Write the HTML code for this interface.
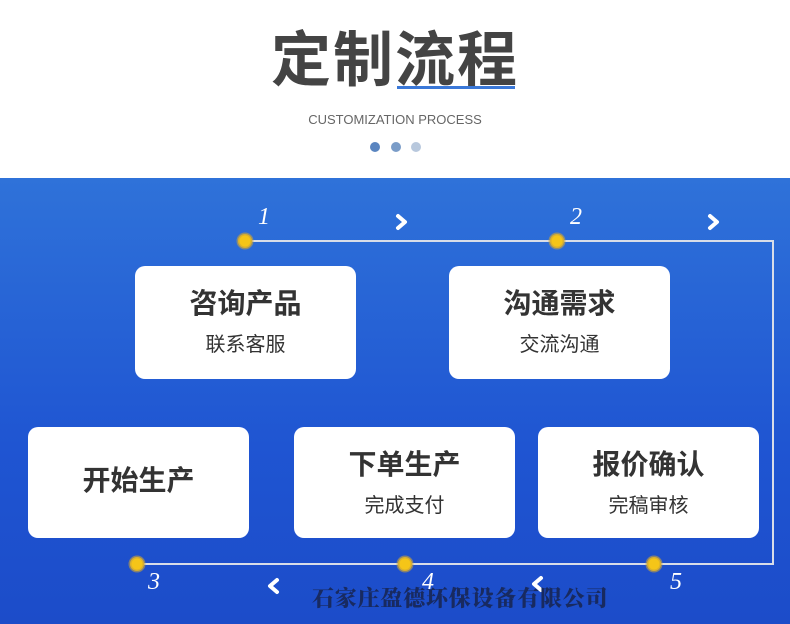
<!DOCTYPE html>
<html><head><meta charset="utf-8"><style>
*{margin:0;padding:0;box-sizing:border-box}
body{width:790px;height:624px;overflow:hidden;position:relative;background:#fff;font-family:"Liberation Sans","Noto Sans CJK SC",sans-serif}
.abs{position:absolute}
.blue{left:0;top:178px;width:790px;height:446px;background:linear-gradient(#2f72d9,#1f55d2 60%,#1c4cc9)}
.box{position:absolute;background:#fff;border-radius:10px;text-align:center;color:#333}
.box .t{font-size:28px;font-weight:bold;margin-top:20px;line-height:36px}
.box .s{font-size:20px;margin-top:10px;line-height:26px}
.num{position:absolute;color:#fff;font-family:"Liberation Serif",serif;font-style:italic;font-size:24px}
</style></head><body>
<div class="abs" style="left:0;top:26px;width:790px;text-align:center;font-size:60px;font-weight:bold;color:#444;letter-spacing:2px;line-height:70px">定制流程</div>
<div class="abs" style="left:397px;top:86px;width:118px;height:3px;background:#3a78d8"></div>
<div class="abs" style="left:0;top:112px;width:790px;text-align:center;font-size:13px;color:#666">CUSTOMIZATION PROCESS</div>
<div class="abs" style="left:370px;top:142px;width:10px;height:10px;border-radius:50%;background:#5a85c0"></div>
<div class="abs" style="left:391px;top:142px;width:10px;height:10px;border-radius:50%;background:#7a9cc8"></div>
<div class="abs" style="left:411px;top:142px;width:10px;height:10px;border-radius:50%;background:#b8c8dd"></div>
<div class="abs blue"></div>
<svg class="abs" style="left:0;top:0" width="790" height="624">
<polyline points="245,241 773,241 773,564 137,564" fill="none" stroke="#d8dde8" stroke-width="2"/>
<g fill="#f5c518" stroke="#c9a33a" stroke-opacity=".6" stroke-width="3">
<circle cx="245" cy="241" r="7"/><circle cx="557" cy="241" r="7"/>
<circle cx="137" cy="564" r="7"/><circle cx="405" cy="564" r="7"/><circle cx="654" cy="564" r="7"/></g>
<g fill="none" stroke="#fff" stroke-width="4" stroke-linecap="round" stroke-linejoin="round">
<polyline points="398,216 405,222 398,228"/>
<polyline points="710,216 717,222 710,228"/>
<polyline points="277,580 270,586 277,592"/>
<polyline points="541,578 534,584 541,590"/>
</g>
</svg>
<div class="num" style="left:258px;top:204px">1</div>
<div class="num" style="left:570px;top:204px">2</div>
<div class="num" style="left:148px;top:569px">3</div>
<div class="num" style="left:422px;top:569px">4</div>
<div class="num" style="left:670px;top:569px">5</div>
<div class="box" style="left:135px;top:266px;width:221px;height:113px"><div class="t">咨询产品</div><div class="s">联系客服</div></div>
<div class="box" style="left:449px;top:266px;width:221px;height:113px"><div class="t">沟通需求</div><div class="s">交流沟通</div></div>
<div class="box" style="left:28px;top:427px;width:221px;height:111px"><div class="t" style="margin-top:36px">开始生产</div></div>
<div class="box" style="left:294px;top:427px;width:221px;height:111px"><div class="t">下单生产</div><div class="s">完成支付</div></div>
<div class="box" style="left:538px;top:427px;width:221px;height:111px"><div class="t">报价确认</div><div class="s">完稿审核</div></div>
<div class="abs" style="left:312px;top:582px;font-family:'Noto Serif CJK SC',serif;font-size:22px;letter-spacing:0.8px;font-weight:900;color:#182a60;white-space:nowrap">石家庄盈德环保设备有限公司</div>
</body></html>
